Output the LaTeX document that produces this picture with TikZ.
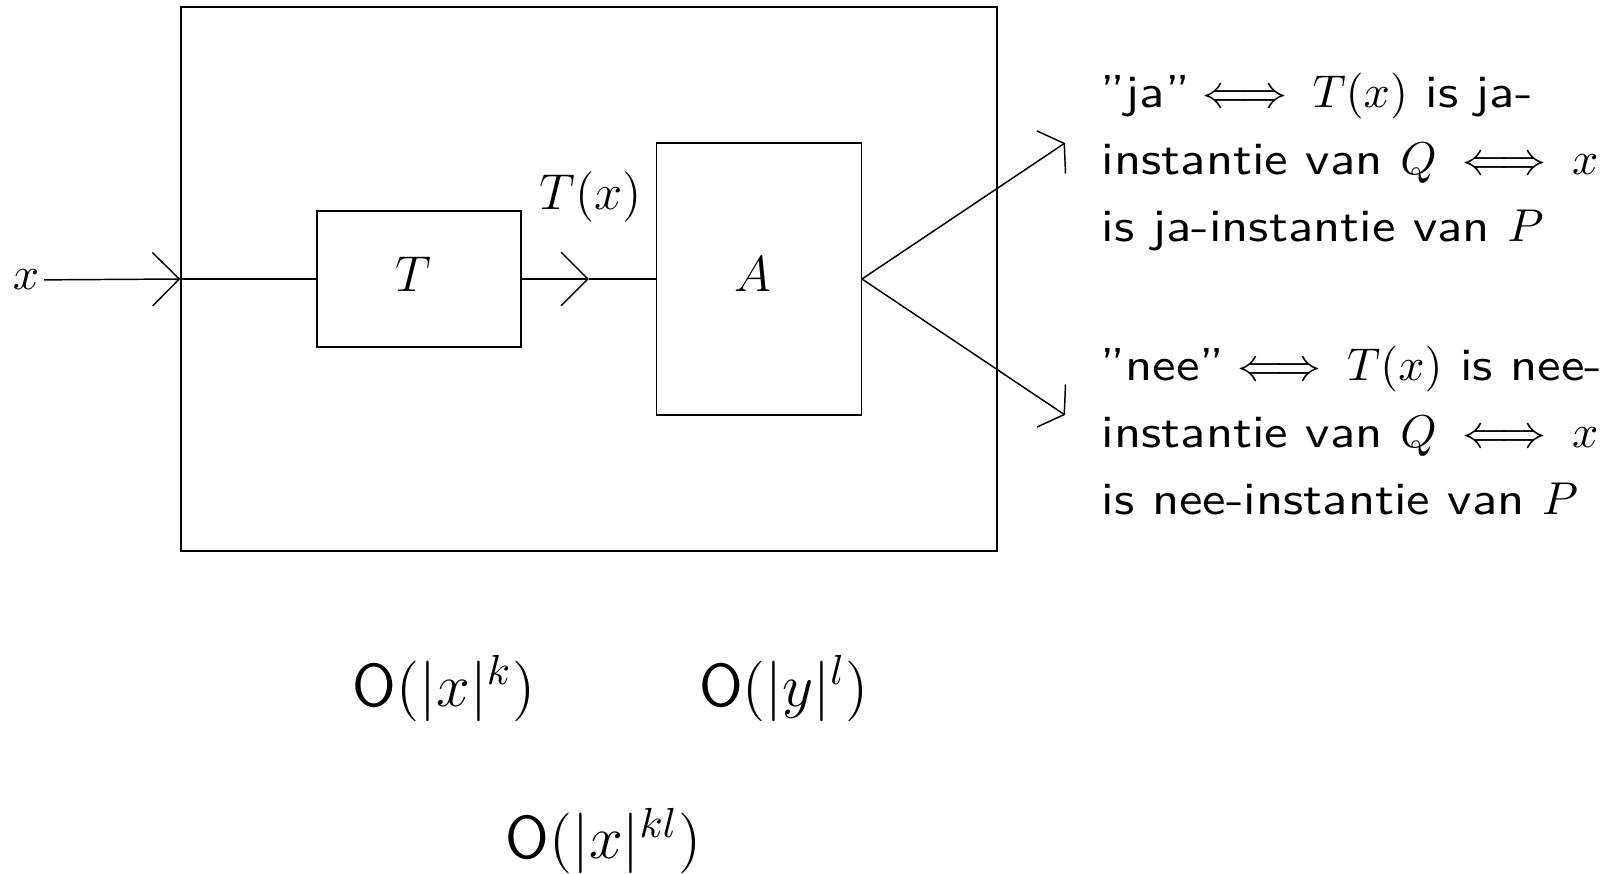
\documentclass[tikz,border=0pt]{standalone}
\usepackage{fontspec}
\newfontfamily\rsans{lmsans10-regular.otf}[FakeStretch=1.14,Ligatures=TeX]
\usetikzlibrary{arrows.meta,calc}
\begin{document}
\begin{tikzpicture}[x=0.238pt,y=-0.238pt,line width=0.35pt,
  box/.style={draw,inner sep=0pt,text depth=2.1pt},
  big/.style={font=\fontsize{12.8}{15}\selectfont},
  rtext/.style={anchor=base west,inner sep=0pt,font=\rsans\fontsize{11}{13}\selectfont},
  btext/.style={anchor=base,inner sep=0pt,font=\sffamily\fontsize{14.4}{17}\selectfont},
  inarrow/.style={-{Straight Barb[angle=90:9pt]}},
  outarrow/.style={-{Straight Barb[angle=117:7.2pt]}}]
\useasboundingbox (0,0) rectangle (1614,874);
% boxes
\node[draw,inner sep=0pt,minimum width=194.21pt,minimum height=129.47pt] (outer) at (589,279) {};
\node[box,big,minimum width=48.55pt,minimum height=32.37pt] (T) at (419,279) {$T$\kern2.8pt};
\node[box,big,minimum width=48.67pt,minimum height=64.74pt] (A) at (759,279) {$A$\kern2.8pt};
% input
\node[inner sep=1pt,font=\fontsize{11}{13}\selectfont] (xl) at (26,280) {$x$};
\draw[inarrow] (xl) -- (outer.west);
\draw (outer.west) -- (T);
% middle
\coordinate (m) at ($(T.east)!0.5!(A.west)$);
\draw[inarrow] (T) -- (m);
\draw (m) -- (A);
\node[anchor=base,inner sep=0pt,font=\fontsize{11.5}{14}\selectfont] (Tx) at (591,209.5) {$T(x)$};
% outputs
\coordinate (jt) at (1065,143);
\coordinate (nt) at (1065,415);
\draw[outarrow] (A.east) -- (jt);
\draw[outarrow] (A.east) -- (nt);
% right texts
\node[rtext] (ja1) at (1100,108) {''ja''$\iff T(x)$ is ja-};
\node[rtext] (ja2) at (1101,175) {instantie van $Q \iff x$};
\node[rtext] (ja3) at (1101,242) {is ja-instantie van $P$};
\node[rtext] (ne1) at (1100,381) {''nee''$\iff T(x)$ is nee-};
\node[rtext] (ne2) at (1101,448) {instantie van $Q \iff x$};
\node[rtext] (ne3) at (1101,515) {is nee-instantie van $P$};
% complexities
\node[btext] (c1) at (444,706) {O$(|x|^k)$};
\node[btext] (c2) at (784,706) {O$(|y|^l)$};
\node[btext] (c3) at (603.5,859) {O$(|x|^{kl})$};
\end{tikzpicture}
\end{document}
